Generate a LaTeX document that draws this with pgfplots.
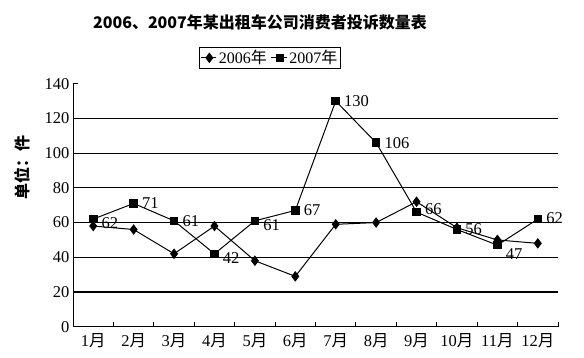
\documentclass[border=0pt]{standalone}
\usepackage{pgfplots}
\pgfplotsset{compat=1.18}
\usepackage{fontspec}
\setmainfont{Liberation Serif}
\newfontfamily\cjk{Noto Sans CJK SC}
\begin{document}
\begin{tikzpicture}[x=1bp,y=1bp]
\useasboundingbox (0,0) rectangle (584,357);
\begin{axis}[
  at={(73bp,30.3bp)}, anchor=south west,
  scale only axis, width=485bp, height=243bp,
  xmin=0.5, xmax=12.5, ymin=0, ymax=140,
  axis x line*=bottom, axis y line*=left,
  axis line style={-, line width=1pt, black},
  xtick={1.5,2.5,...,12.5},
  xticklabels={},
  xtick align=inside,
  extra x ticks={1,...,12},
  extra x tick labels={1{\cjk 月},2{\cjk 月},3{\cjk 月},4{\cjk 月},5{\cjk 月},6{\cjk 月},7{\cjk 月},8{\cjk 月},9{\cjk 月},10{\cjk 月},11{\cjk 月},12{\cjk 月}},
  extra x tick style={major tick length=0pt, tick label style={yshift=-3bp}},
  ytick={0,20,...,140},
  tick style={black, line width=1pt},
  major tick length=5bp,
  extra y ticks={20,40,...,120},
  extra y tick labels={},
  extra y tick style={ymajorgrids=true, major grid style={black, line width=1.1pt}},
  tick label style={font=\fontsize{16.5bp}{18bp}\selectfont},
  /pgf/number format/assume math mode=true,
  legend style={at={(0.406,1)}, anchor=south, yshift=15bp, draw=black, line width=0.8pt,
    font=\fontsize{16bp}{17bp}\selectfont, inner sep=1bp,
    /tikz/every even column/.append style={column sep=2bp}},
  legend columns=2,
  legend image code/.code={\draw[mark repeat=2,mark phase=2] plot coordinates {(0cm,0cm) (0.3cm,0cm) (0.55cm,0cm)};},
  clip=false,
]
\addplot[black, line width=1pt, mark=diamond*, mark size=4.5bp, mark options={solid}]
  coordinates {(1,58)(2,56)(3,42)(4,58)(5,38)(6,29)(7,59)(8,60)(9,72)(10,57)(11,50)(12,48)};
\addlegendentry{2006{\cjk 年}}
\addplot[black, line width=1pt, mark=square*, mark size=3.8bp,
  nodes near coords,
  every node near coord/.append style={anchor=west, xshift=7bp, black,
    font=\fontsize{16.5bp}{18bp}\selectfont, inner sep=1bp},
  coordinate style/.condition={\coordindex==0 || \coordindex==3 || \coordindex==4}{yshift=-4bp},
  coordinate style/.condition={\coordindex==8}{yshift=3bp},
  coordinate style/.condition={\coordindex==10}{yshift=-9bp},
  coordinate style/.condition={\coordindex==11}{yshift=1bp},
]
  coordinates {(1,62)(2,71)(3,61)(4,42)(5,61)(6,67)(7,130)(8,106)(9,66)(10,56)(11,47)(12,62)};
\addlegendentry{2007{\cjk 年}}
\end{axis}
\node[font=\cjk\bfseries\fontsize{16bp}{18bp}\selectfont] at (260,335) {2006、2007年某出租车公司消费者投诉数量表};
\node[font=\cjk\bfseries\fontsize{16bp}{18bp}\selectfont, rotate=90] at (22,190) {单位：件};
\end{tikzpicture}
\end{document}
